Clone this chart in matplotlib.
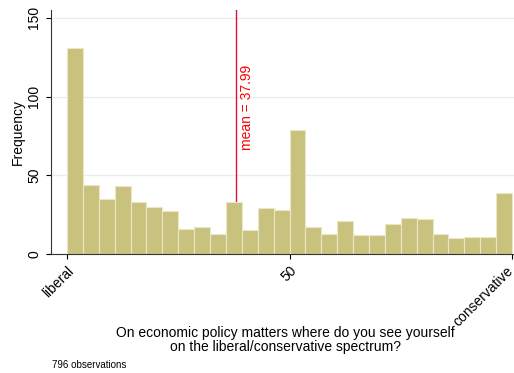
import numpy as np
import matplotlib
matplotlib.use("Agg")
import matplotlib.pyplot as plt
import matplotlib.transforms as mtransforms

plt.rcParams['font.family'] = ['Liberation Sans', 'DejaVu Sans']

# 28 bins over 0..100, counts
counts = [131, 44, 35, 43, 33, 30, 27, 16, 17, 13, 33, 15, 29, 28,
          79, 17, 13, 21, 12, 12, 19, 23, 22, 13, 10, 11, 11, 39]
mean_val = 37.99
n_obs = 796
tick_pos = [0, 50, 100]
tick_labels = ['liberal', '50', 'conservative']

edges = np.linspace(0, 100, len(counts) + 1)
width = edges[1] - edges[0]

fig = plt.figure(figsize=(5.14, 3.73), dpi=100)
ax = fig.add_axes([51 / 514, 1 - 254 / 373, 463 / 514, 244 / 373])

ax.bar(edges[:-1], counts, width=width, align='edge',
       color='#c9c27f', edgecolor='#ebe7c3', linewidth=0.8, zorder=2)

ax.axvline(mean_val, color='#e0103a', linewidth=1.0, zorder=1)
ax.text(mean_val + 0.8, 93, 'mean = %.2f' % mean_val, rotation=90,
        color='#ff0000', fontsize=10, ha='left', va='center')

ax.set_xlim(-3.6, 100.45)
ax.set_ylim(0, 155)
ax.set_yticks([0, 50, 100, 150])
ax.set_yticklabels(['0', '50', '100', '150'], rotation=90, va='center', fontsize=10)
ax.set_xticks(tick_pos)
ax.set_xticklabels(tick_labels, rotation=45, ha='right', rotation_mode='anchor',
                   fontsize=10)
# keep the last label inside the figure edge
last = ax.get_xticklabels()[-1]
last.set_transform(last.get_transform() +
                   mtransforms.ScaledTranslation(-6 / 100, 0, fig.dpi_scale_trans))
ax.grid(axis='y', color='#e6eef0', linewidth=1.0, zorder=0)
ax.set_axisbelow(True)

for s in ['top', 'right']:
    ax.spines[s].set_visible(False)
ax.spines['left'].set_color('#333333')
ax.spines['bottom'].set_color('#333333')

ax.set_ylabel('Frequency', fontsize=10, labelpad=2)
fig.text(285 / 514, 1 - 340 / 373,
         'On economic policy matters where do you see yourself\n'
         'on the liberal/conservative spectrum?',
         fontsize=10, ha='center', va='center', linespacing=1.05)
fig.text(52 / 514, 1 - 365 / 373, '%d observations' % n_obs, fontsize=7,
         ha='left', va='center')

fig.savefig('out.png', dpi=100)
